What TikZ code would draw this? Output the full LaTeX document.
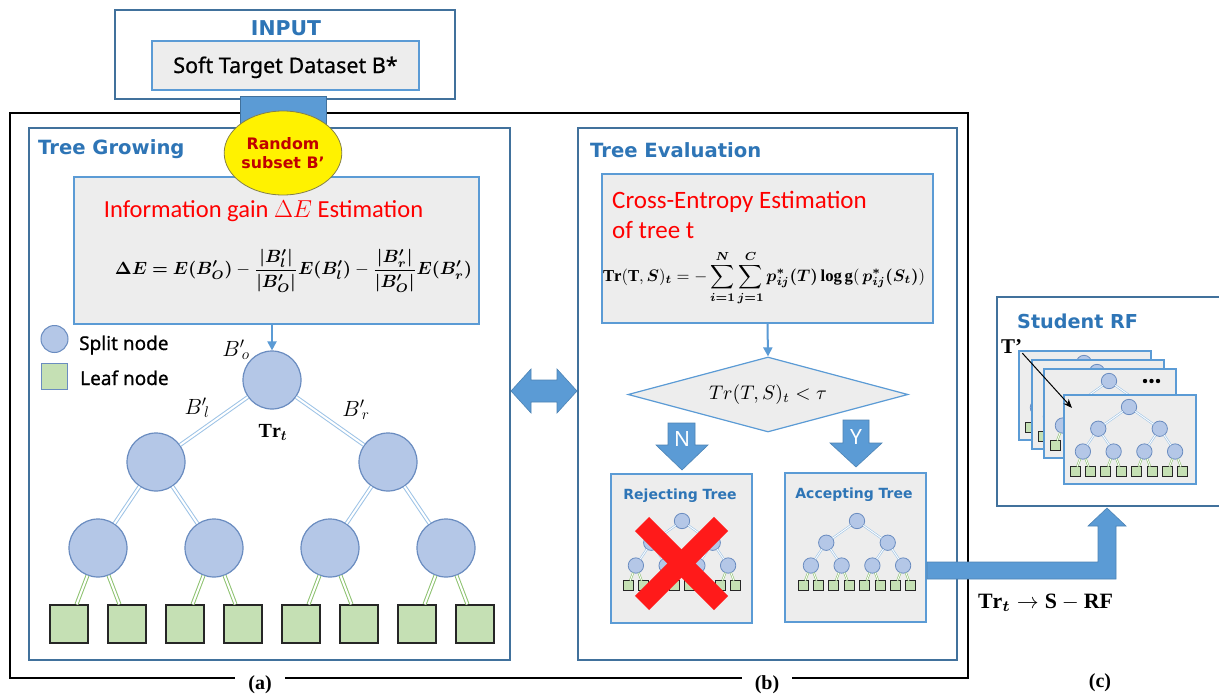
\RequirePackage{fix-cm}
\documentclass[tikz,border=0pt]{standalone}
\usepackage{fontspec}
\usepackage{amsmath,bm}
\usepackage{graphicx}
\setmainfont{Liberation Serif}
\newfontfamily\nsf{Noto Sans}
\newfontfamily\nsfm[FakeBold=0.8]{Noto Sans}
\newfontfamily\djv{DejaVu Sans}
\newfontfamily\calib{Carlito}
\usetikzlibrary{shapes.geometric,arrows.meta}
\definecolor{panelblue}{HTML}{41719C}
\definecolor{boxblue}{HTML}{5B9BD5}
\definecolor{boxgray}{HTML}{EDEDED}
\definecolor{titleblue}{HTML}{2E75B6}
\definecolor{splitfill}{HTML}{B4C7E7}
\definecolor{splitdraw}{HTML}{6A8CC0}
\definecolor{leaffill}{HTML}{C5E0B4}
\definecolor{edgeblue}{HTML}{9DC3E6}
\definecolor{edgegreen}{HTML}{8DC26F}
\definecolor{darkred}{HTML}{C00000}
\definecolor{xred}{HTML}{FF1A1A}
\tikzset{
  panel/.style={draw=panelblue, line width=2.2pt, inner sep=0pt},
  inbox/.style={draw=boxblue, fill=boxgray, line width=2pt, inner sep=0pt},
  split/.style={circle, draw=splitdraw, fill=splitfill, line width=1.2pt, minimum size=58pt, inner sep=0pt},
  leaf/.style={rectangle, draw=black!85, fill=leaffill, line width=1.5pt, minimum size=38pt, inner sep=0pt},
  bedge/.style={draw=edgeblue, double=white, line width=1pt, double distance=2pt},
  gedge/.style={draw=edgegreen, double=white, line width=1pt, double distance=2pt},
  mini/.style={split/.append style={line width=0.8pt}, leaf/.append style={line width=1pt},
     bedge/.append style={line width=0.6pt, double distance=0.9pt},
     gedge/.append style={line width=0.6pt, double distance=0.9pt}},
  heading/.style={font=\djv\bfseries\fontsize{19.6}{24}\selectfont, text=titleblue, inner sep=0pt},
  smallhead/.style={font=\djv\bfseries\fontsize{14}{17}\selectfont, text=titleblue, inner sep=0pt},
  redtitle/.style={font=\calib\fontsize{24.5}{28}\selectfont, text=red, inner sep=0pt},
  legendtext/.style={font=\nsfm\fontsize{19}{22}\selectfont, inner sep=0pt},
  blockarrow/.style={fill=boxblue, draw=boxblue!85!black, line width=0.6pt},
  flowarrow/.style={draw=boxblue, line width=2pt, -{Triangle[length=9pt,width=9pt]}},
  sublabel/.style={fill=white, font=\bfseries\fontsize{20}{24}\selectfont, inner xsep=13pt, inner ysep=3pt},
  xbar/.style={draw=xred, line width=20pt},
  card/.style={inbox, minimum width=132pt, minimum height=89pt},
  pics/bintree/.style={code={
    \node[split] (-r) at (0,0) {};
    \node[split] (-a) at (-116,82) {};
    \node[split] (-b) at (116,82) {};
    \node[split] (-c1) at (-174,168) {};
    \node[split] (-c2) at (-58,168) {};
    \node[split] (-c3) at (58,168) {};
    \node[split] (-c4) at (174,168) {};
    \foreach \i in {1,...,8}{\node[leaf] (-l\i) at ({-203+(\i-1)*58},244) {};}
    \draw[bedge] (-r) -- (-a);
    \draw[bedge] (-r) -- (-b);
    \draw[bedge] (-a) -- (-c1);
    \draw[bedge] (-a) -- (-c2);
    \draw[bedge] (-b) -- (-c3);
    \draw[bedge] (-b) -- (-c4);
    \draw[gedge] (-c1) -- (-l1);
    \draw[gedge] (-c1) -- (-l2);
    \draw[gedge] (-c2) -- (-l3);
    \draw[gedge] (-c2) -- (-l4);
    \draw[gedge] (-c3) -- (-l5);
    \draw[gedge] (-c3) -- (-l6);
    \draw[gedge] (-c4) -- (-l7);
    \draw[gedge] (-c4) -- (-l8);
  }}
}
\begin{document}
\begin{tikzpicture}[x=1pt,y=-1pt]
\useasboundingbox (0,0) rectangle (1219,696);
\fill[white] (0,0) rectangle (1219,696);

% outer black frame
\node[draw=black, line width=2.5pt, minimum width=958pt, minimum height=565pt, inner sep=0pt] (frame) at (489,395.5) {};

% panels
\node[panel, minimum width=481pt, minimum height=532pt] (growpanel) at (269.5,394) {};
\node[panel, minimum width=379pt, minimum height=532pt] (evalpanel) at (767.5,394) {};

% input
\node[panel, minimum width=340pt, minimum height=89pt] (inputbox) at (285,54.5) {};
\node[heading, font=\djv\bfseries\fontsize{20.4}{24}\selectfont, anchor=base] (inputtitle) at (286,35) {INPUT};
\node[inbox, minimum width=267pt, minimum height=49pt] (softbox) at (285.5,65.5) {};
\node[font=\nsfm\fontsize{21.5}{25}\selectfont, anchor=base, inner sep=0pt] (softtext) at (285.5,73) {Soft Target Dataset B*};
\node[fill=boxblue, draw=panelblue, line width=1pt, minimum width=86pt, minimum height=32pt, inner sep=0pt] (conn) at (283,112) {};

% tree growing
\node[heading, anchor=base west] (growtitle) at (38,154) {Tree Growing};
\node[inbox, minimum width=405pt, minimum height=147pt] (info) at (276.5,250.5) {};
\node[redtitle, anchor=base] (infotitle) at (263.5,217) {Information gain $\Delta E$ Estimation};
\node[inner sep=0pt] (infoform) at (293.5,271) {\resizebox{357pt}{!}{$\displaystyle \bm{\Delta E = E(B'_O)} - \frac{\bm{|B'_l|}}{\bm{|B'_O|}}\bm{E(B'_l)} - \frac{\bm{|B'_r|}}{\bm{|B'_O|}}\bm{E(B'_r)}$}};

\node[ellipse, fill=yellow, draw=black!55!yellow, line width=0.8pt, minimum width=95pt, minimum height=84pt, inner sep=0pt, align=center, font=\djv\bfseries\fontsize{15.8}{19}\selectfont, text=darkred] (subset) at (283,153) {Random\\subset B’};

% legend
\node[split, minimum size=27pt, line width=1pt] (legsplit) at (54.5,339) {};
\node[leaf, minimum size=26pt, draw=splitdraw, line width=1pt] (legleaf) at (54.5,376) {};
\node[legendtext, anchor=base west] (legsplittext) at (79,350) {Split node};
\node[legendtext, anchor=base west] (legleaftext) at (80,385) {Leaf node};

% big tree
\begin{scope}[shift={(272,380)}]
\pic (bt) {bintree};
\end{scope}
\draw[flowarrow] (info.south -| bt-r.north) -- (bt-r.north);
\node[font=\fontsize{22}{26}\selectfont, inner sep=0pt] (lbo) at (236,350) {${B'}_{\!o}$};
\node[font=\fontsize{22}{26}\selectfont, inner sep=0pt] (lbl) at (197,408) {${B'}_{\!l}$};
\node[font=\fontsize{22}{26}\selectfont, inner sep=0pt] (lbr) at (356,410) {${B'}_{\!r}$};
\node[font=\fontsize{20}{24}\selectfont, inner sep=0pt] (trt) at (273,432) {$\mathbf{Tr}_{\bm{t}}$};

% double arrow between panels
\filldraw[blockarrow] (511,391) -- (531,369) -- (531,380) -- (557,380) -- (557,369) -- (577,391) -- (557,413) -- (557,402) -- (531,402) -- (531,413) -- cycle;

% tree evaluation
\node[heading, anchor=base west] (evaltitle) at (590,157) {Tree Evaluation};
\node[inbox, minimum width=331pt, minimum height=149pt] (ce) at (767.5,248.5) {};
\node[redtitle, font=\calib\fontsize{25}{29}\selectfont, anchor=base west] (cetitle1) at (612,208) {Cross-Entropy Estimation};
\node[redtitle, font=\calib\fontsize{25}{29}\selectfont, anchor=base west] (cetitle2) at (612,238) {of tree t};
\node[inner sep=0pt] (ceform) at (764,278) {\resizebox{322pt}{!}{$\displaystyle \mathbf{Tr}(\mathbf{T},\bm{S})_{\bm t}=-\sum_{\bm{i=1}}^{\bm N}\sum_{\bm{j=1}}^{\bm C}\bm{p^{*}_{ij}(T)}\,\mathbf{log\,g}(\,\bm{p^{*}_{ij}(S_t)})$}};

\node[diamond, aspect=3.7, draw=boxblue, fill=boxgray, line width=1.2pt, minimum width=280pt, minimum height=75pt, inner sep=0pt] (dia) at (768,394.5) {\resizebox{118pt}{!}{$Tr(T,S)_t<\tau$}};
\draw[flowarrow] (ce.south) -- (dia.north);

\filldraw[blockarrow] (668,423) -- (695,423) -- (695,445) -- (708,445) -- (682,470) -- (656,445) -- (668,445) -- cycle;
\node[text=white, font=\nsf\fontsize{21}{24}\selectfont, inner sep=0pt] (ntext) at (682,439) {N};
\filldraw[blockarrow] (843,420) -- (869,420) -- (869,443) -- (882,443) -- (856,467) -- (830,443) -- (843,443) -- cycle;
\node[text=white, font=\nsf\fontsize{21}{24}\selectfont, inner sep=0pt] (ytext) at (856,437) {Y};

\node[inbox, minimum width=141pt, minimum height=149pt] (rej) at (681.5,548.5) {};
\node[smallhead, anchor=base] (rejtitle) at (680,499) {Rejecting Tree};
\begin{scope}[shift={(682,521)}]
\pic[scale=0.265, transform shape, mini] (rt) {bintree};
\end{scope}
\draw[xbar] (642,524) -- (721,603);
\draw[xbar] (721,524) -- (642,603);

\node[inbox, minimum width=141pt, minimum height=149pt] (acc) at (855.5,547.5) {};
\node[smallhead, anchor=base] (acctitle) at (854,498) {Accepting Tree};
\begin{scope}[shift={(857,521)}]
\pic[scale=0.265, transform shape, mini] (at) {bintree};
\end{scope}

% sub labels
\node[sublabel] (la) at (260,685) {(a)};
\node[sublabel] (lb) at (767,685) {(b)};
\node[font=\bfseries\fontsize{20}{24}\selectfont] (lc) at (1100,683) {(c)};

% student RF
\node[panel, minimum width=228pt, minimum height=209pt] (student) at (1111,401.5) {};
\node[heading, font=\djv\bfseries\fontsize{19.2}{23}\selectfont, anchor=base west] (studtitle) at (1017,328) {Student RF};
\node[font=\bfseries\fontsize{21}{24}\selectfont, anchor=base west, inner sep=0pt] (tprime) at (1001,353) {T’};

\node[card] (card1) at (1085,395.5) {};
\begin{scope}[shift={(1084,363)}]
\pic[scale=0.265, transform shape, mini] (s1) {bintree};
\end{scope}
\node[card] (card2) at (1098,404.5) {};
\begin{scope}[shift={(1097,372)}]
\pic[scale=0.265, transform shape, mini] (s2) {bintree};
\end{scope}
\node[card] (card3) at (1110,413.5) {};
\begin{scope}[shift={(1109,381)}]
\pic[scale=0.265, transform shape, mini] (s3) {bintree};
\end{scope}
\fill (1145,381) circle (2.2) (1151.5,381) circle (2.2) (1158,381) circle (2.2);
\node[card] (card4) at (1130,439.5) {};
\begin{scope}[shift={(1129,407)}]
\pic[scale=0.265, transform shape, mini] (s4) {bintree};
\end{scope}
\coordinate (tend) at (1072,408);
\draw[-{Stealth[length=9pt,width=7pt]}, line width=1pt] (tprime.south east) -- (tend);

% output arrow
\filldraw[blockarrow] (acc.east |- 0,562) -- (1098,562) -- (1098,526) -- (1088,526) -- (1107,508) -- (1126,526) -- (1116,526) -- (1116,579) -- (acc.east |- 0,579) -- cycle;
\node[inner sep=0pt] (tolabel) at (1045.5,603) {\resizebox{135pt}{!}{$\mathbf{Tr}_{\bm t}\rightarrow\mathbf{S}-\mathbf{RF}$}};
\end{tikzpicture}
\end{document}
